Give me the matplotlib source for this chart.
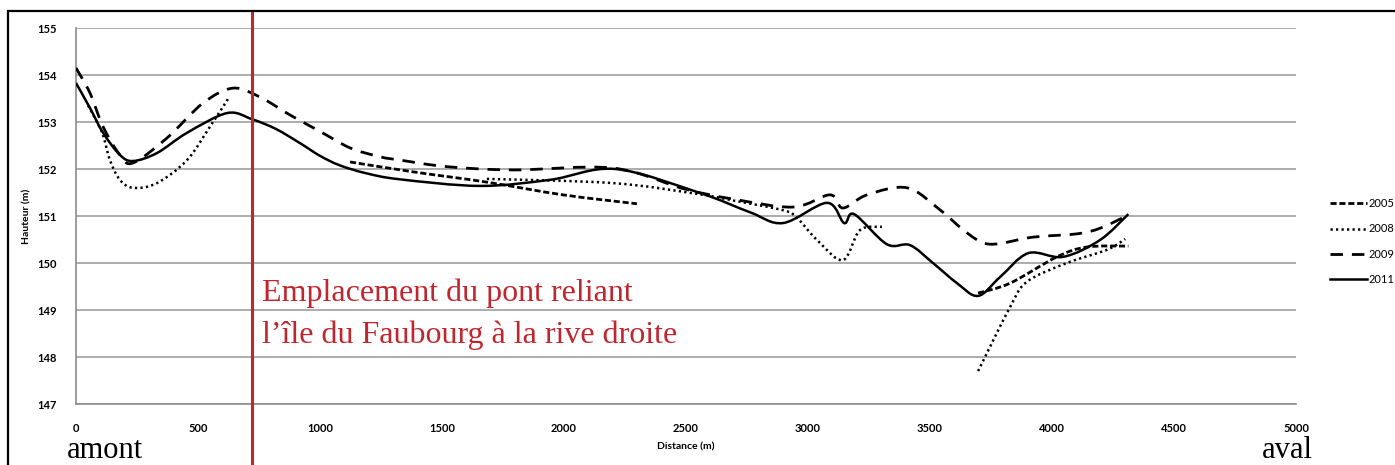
import numpy as np
import matplotlib.pyplot as plt
from matplotlib.path import Path
from matplotlib.patches import PathPatch, Rectangle
from matplotlib.lines import Line2D

# profils en long (distance en m, hauteur en m), une liste par segment
x2005 = [[1123, 1381, 1684, 1996, 2299],
         [3697, 3828, 4020, 4143, 4313]]
y2005 = [[152.15, 151.94, 151.72, 151.45, 151.26],
         [149.36, 149.57, 150.13, 150.34, 150.36]]

x2008 = [[50, 107, 139, 180, 234, 332, 455, 549, 623],
         [1684, 2201, 2545, 2693, 2900, 2955, 3037, 3143, 3213, 3303],
         [3697, 3828, 3897, 4061, 4225, 4300]]
y2008 = [[153.35, 152.77, 152.19, 151.77, 151.60, 151.70, 152.19, 152.90, 153.49],
         [151.79, 151.70, 151.47, 151.33, 151.12, 150.96, 150.49, 150.06, 150.70, 150.77],
         [147.70, 149.06, 149.60, 150.00, 150.28, 150.51]]

x2009 = [[0, 57, 111, 180, 234, 373, 520, 643, 754, 877, 1000, 1123, 1246, 1328, 1520,
          1792, 2201, 2490, 2693, 2939, 3090, 3143, 3242, 3406, 3541, 3652, 3746, 3922,
          4102, 4197, 4313]]
y2009 = [[154.15, 153.62, 152.90, 152.30, 152.13, 152.66, 153.40, 153.72, 153.53, 153.15,
          152.80, 152.45, 152.26, 152.19, 152.05, 151.98, 152.02, 151.58, 151.36, 151.19,
          151.45, 151.17, 151.45, 151.60, 151.13, 150.64, 150.40, 150.55, 150.62, 150.74,
          151.02]]

x2011 = [[0, 57, 111, 180, 234, 332, 455, 619, 721, 820, 918, 1000, 1080, 1189, 1328,
          1656, 1943, 2210, 2557, 2762, 2898, 3078, 3148, 3189, 3323, 3418, 3512, 3611,
          3697, 3787, 3903, 4045, 4197, 4313]]
y2011 = [[153.83, 153.30, 152.77, 152.30, 152.17, 152.34, 152.77, 153.19, 153.06, 152.85,
          152.55, 152.28, 152.08, 151.91, 151.78, 151.64, 151.77, 152.00, 151.49, 151.08,
          150.85, 151.28, 150.85, 151.04, 150.40, 150.38, 150.00, 149.57, 149.30, 149.70,
          150.21, 150.13, 150.49, 151.04]]

annees = ['2005', '2008', '2009', '2011']
styles = [(0, (2.2, 1.0)), (0, (0.9, 1.3)), (0, (4.5, 3.2)), '-']
largeurs = [2.0, 1.8, 2.0, 1.8]
pont_x = 721


def courbe_lissee(xs, ys):
    # courbe lissee facon Excel (Catmull-Rom -> Bezier)
    p = np.column_stack([xs, ys]).astype(float)
    verts = [p[0]]
    codes = [Path.MOVETO]
    n = len(p)
    for i in range(n - 1):
        p0 = p[i - 1] if i > 0 else p[i]
        p3 = p[i + 2] if i + 2 < n else p[i + 1]
        c1 = p[i] + (p[i + 1] - p0) / 6
        c2 = p[i + 1] - (p3 - p[i]) / 6
        verts += [c1, c2, p[i + 1]]
        codes += [Path.CURVE4] * 3
    return Path(verts, codes)


fig = plt.figure(figsize=(13.95, 4.65), dpi=100)
ax = fig.add_axes([76 / 1395, 61 / 465, 1220 / 1395, 376 / 465])

series = [(x2005, y2005), (x2008, y2008), (x2009, y2009), (x2011, y2011)]
for (xs, ys), ls, lw in zip(series, styles, largeurs):
    for sx, sy in zip(xs, ys):
        ax.add_patch(PathPatch(courbe_lissee(sx, sy), fill=False, edgecolor='black',
                               lw=lw, linestyle=ls, zorder=3))

ax.set_xlim(0, 5000)
ax.set_ylim(147, 155)
ax.set_xticks(np.arange(0, 5001, 500))
ax.set_yticks(np.arange(147, 156, 1))
ax.yaxis.grid(True, color='#A6A6A6', lw=1.3)
ax.set_axisbelow(True)
for s in ['top', 'right']:
    ax.spines[s].set_visible(False)
for s in ['left', 'bottom']:
    ax.spines[s].set_color('#8C8C8C')
    ax.spines[s].set_linewidth(1.2)
ax.tick_params(length=0, labelsize=8, pad=14)
for lab in ax.get_xticklabels() + ax.get_yticklabels():
    lab.set_fontfamily('Lato')
    lab.set_fontweight('bold')
ax.set_xlabel('Distance (m)', fontsize=7.5, fontweight='bold', family='Lato', labelpad=6)
ax.set_ylabel('Hauteur (m)', fontsize=7.5, fontweight='bold', family='Lato', labelpad=4)

# pont
rouge = '#C0262D'
ax.axvline(pont_x, ymin=-0.17, ymax=1.045, color=rouge, lw=2.2, clip_on=False, zorder=4)
fig.text(262 / 1395, 1 - 301 / 465, 'Emplacement du pont reliant',
         color=rouge, family='Liberation Serif', fontsize=23, va='baseline')
fig.text(262 / 1395, 1 - 343 / 465, 'l\u2019\u00eele du Faubourg \u00e0 la rive droite',
         color=rouge, family='Liberation Serif', fontsize=23, va='baseline')
fig.text(67 / 1395, 1 - 458 / 465, 'amont', family='Liberation Serif', fontsize=22,
         va='baseline')
fig.text(1262 / 1395, 1 - 458 / 465, 'aval', family='Liberation Serif', fontsize=22,
         va='baseline')

# legende
poignees = [Line2D([], [], color='black', lw=lw, linestyle=ls)
            for ls, lw in zip(styles, largeurs)]
fig.legend(poignees, annees, loc='upper left', bbox_to_anchor=(1320 / 1395, 1 - 188 / 465),
           frameon=False, handlelength=3.3, handletextpad=0.15, labelspacing=1.3,
           prop={'family': 'Lato', 'size': 8})

# cadre
fig.patches.append(Rectangle((8 / 1395, -0.1), 1.2, 1 - 11 / 465 + 0.1, transform=fig.transFigure,
                             fill=False, edgecolor='black', lw=1.6))

fig.savefig('out.png', dpi=100)
